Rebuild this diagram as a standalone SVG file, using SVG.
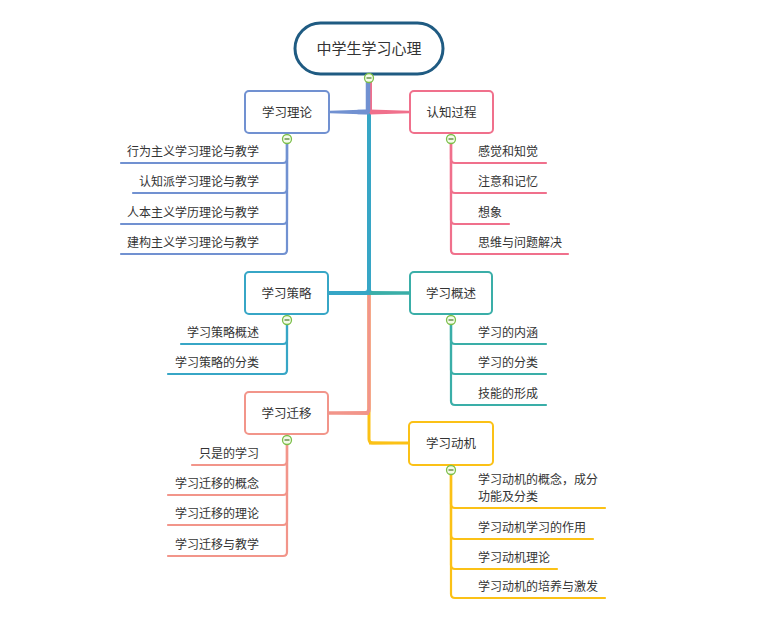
<svg xmlns="http://www.w3.org/2000/svg" width="760" height="624" viewBox="0 0 760 624">
<style>
text{font-family:"Noto Sans CJK SC","Noto Sans",sans-serif;fill:#333}
.lbl{font-size:12.5px;text-anchor:middle}
.sub{font-size:12px}
.l{text-anchor:end}
.node{fill:#fff;stroke-width:2}
.c{fill:none;stroke-width:2.2;stroke-linecap:round;stroke-linejoin:round}
.blue{stroke:#7191d1}.pink{stroke:#f0708c}.tb{stroke:#37a6c6}.teal{stroke:#3aaea8}.sal{stroke:#f2958a}.yel{stroke:#fbc116}
.tog circle{fill:#f4fbe9;stroke:#7cbf4a;stroke-width:1.3}
.tog line{stroke:#4a7a2a;stroke-width:1.2}
</style>
<rect width="760" height="624" fill="#fff"/>
<g id="connectors">
  <!-- main branches -->
  <path class="c yel" style="stroke-width:3" d="M369,76 V439 Q369,443 373,443 H409"/>
  <polygon fill="#fbc116" points="369,441.5 369,444.5 409,443.8 409,442.2"/>
  <path class="c sal" style="stroke-width:3.5" d="M369,76 V409 Q369,413 365,413 H329"/>
  <polygon fill="#f2958a" points="369,411 369,415 329,413.8 329,412.2"/>
  <path class="c teal" style="stroke-width:3.5" d="M369,76 V289 Q369,293 373,293 H409"/>
  <polygon fill="#3aaea8" points="369,291 369,295 409,293.8 409,292.2"/>
  <path class="c tb" style="stroke-width:4" d="M369,76 V289 Q369,293 365,293 H329"/>
  <polygon fill="#37a6c6" points="369,291 369,295 329,293.8 329,292.2"/>
  <path class="c pink" style="stroke-width:4" d="M370,76 V110 Q370,112 372,112 H380"/>
  <polygon fill="#f0708c" points="370,109.5 370,114.5 409,113.3 409,110.7"/>
  <path class="c blue" style="stroke-width:4.5" d="M368,76 V110 Q368,112 366,112 H358"/>
  <polygon fill="#7191d1" points="369,109.5 369,114.5 330,113.3 330,110.7"/>
  <!-- 学习理论 children -->
  <path class="c blue" d="M287,139 V159 Q287,163 283,163 H121"/>
  <path class="c blue" d="M287,139 V189 Q287,193 283,193 H133"/>
  <path class="c blue" d="M287,139 V220 Q287,224 283,224 H121"/>
  <path class="c blue" d="M287,139 V250 Q287,254 283,254 H121"/>
  <!-- 认知过程 children -->
  <path class="c pink" d="M451,139 V159 Q451,163 455,163 H546"/>
  <path class="c pink" d="M451,139 V189 Q451,193 455,193 H546"/>
  <path class="c pink" d="M451,139 V220 Q451,224 455,224 H509"/>
  <path class="c pink" d="M451,139 V250 Q451,254 455,254 H568"/>
  <!-- 学习策略 children -->
  <path class="c tb" d="M287,320 V340 Q287,344 283,344 H181"/>
  <path class="c tb" d="M287,320 V370 Q287,374 283,374 H168"/>
  <!-- 学习概述 children -->
  <path class="c teal" d="M451,320 V340 Q451,344 455,344 H546"/>
  <path class="c teal" d="M451,320 V370 Q451,374 455,374 H546"/>
  <path class="c teal" d="M451,320 V401 Q451,405 455,405 H546"/>
  <!-- 学习迁移 children -->
  <path class="c sal" d="M287,440 V461 Q287,465 283,465 H192"/>
  <path class="c sal" d="M287,440 V491 Q287,495 283,495 H168"/>
  <path class="c sal" d="M287,440 V521 Q287,525 283,525 H168"/>
  <path class="c sal" d="M287,440 V552 Q287,556 283,556 H168"/>
  <!-- 学习动机 children -->
  <path class="c yel" d="M451,470 V504 Q451,508 455,508 H605"/>
  <path class="c yel" d="M451,470 V535 Q451,539 455,539 H593"/>
  <path class="c yel" d="M451,470 V565 Q451,569 455,569 H557"/>
  <path class="c yel" d="M451,470 V594 Q451,598 455,598 H605"/>
</g>
<g id="root">
  <rect x="295" y="23" width="148" height="51" rx="25.5" fill="#fff" stroke="#1f5b82" stroke-width="3"/>
  <text x="369" y="53.5" style="font-size:15px;text-anchor:middle">中学生学习心理</text>
</g>
<g id="n-xxll">
  <rect class="node blue" x="245" y="91" width="84" height="42" rx="4"/>
  <text class="lbl" x="287" y="116.5">学习理论</text>
</g>
<g id="n-rzgc">
  <rect class="node pink" x="410" y="91" width="83" height="42" rx="4"/>
  <text class="lbl" x="451.5" y="116.5">认知过程</text>
</g>
<g id="n-xxcl">
  <rect class="node tb" x="245" y="272" width="83" height="42" rx="4"/>
  <text class="lbl" x="286.5" y="297.5">学习策略</text>
</g>
<g id="n-xxgs">
  <rect class="node teal" x="410" y="272" width="82" height="42" rx="4"/>
  <text class="lbl" x="451" y="297.5">学习概述</text>
</g>
<g id="n-xxqy">
  <rect class="node sal" x="245" y="392" width="83" height="42" rx="4"/>
  <text class="lbl" x="286.5" y="417.5">学习迁移</text>
</g>
<g id="n-xxdj">
  <rect class="node yel" x="409" y="422" width="84" height="43" rx="4"/>
  <text class="lbl" x="451" y="447.5">学习动机</text>
</g>
<g id="leaves-xxll">
  <text class="sub l" x="259" y="156">行为主义学习理论与教学</text>
  <text class="sub l" x="259" y="186">认知派学习理论与教学</text>
  <text class="sub l" x="259" y="217">人本主义学历理论与教学</text>
  <text class="sub l" x="259" y="247">建构主义学习理论与教学</text>
</g>
<g id="leaves-rzgc">
  <text class="sub" x="478" y="156">感觉和知觉</text>
  <text class="sub" x="478" y="186">注意和记忆</text>
  <text class="sub" x="478" y="217">想象</text>
  <text class="sub" x="478" y="247">思维与问题解决</text>
</g>
<g id="leaves-xxcl">
  <text class="sub l" x="259" y="337">学习策略概述</text>
  <text class="sub l" x="259" y="367">学习策略的分类</text>
</g>
<g id="leaves-xxgs">
  <text class="sub" x="478" y="337">学习的内涵</text>
  <text class="sub" x="478" y="367">学习的分类</text>
  <text class="sub" x="478" y="398">技能的形成</text>
</g>
<g id="leaves-xxqy">
  <text class="sub l" x="259" y="458">只是的学习</text>
  <text class="sub l" x="259" y="488">学习迁移的概念</text>
  <text class="sub l" x="259" y="518">学习迁移的理论</text>
  <text class="sub l" x="259" y="549">学习迁移与教学</text>
</g>
<g id="leaves-xxdj">
  <text class="sub" x="478" y="483.5"><tspan x="478">学习动机的概念，成分</tspan><tspan x="478" dy="17.5">功能及分类</tspan></text>
  <text class="sub" x="478" y="532">学习动机学习的作用</text>
  <text class="sub" x="478" y="562">学习动机理论</text>
  <text class="sub" x="478" y="591">学习动机的培养与激发</text>
</g>
<g id="toggles" class="tog">
  <circle cx="369" cy="78" r="4.5"/><line x1="366.5" y1="78" x2="371.5" y2="78"/>
  <circle cx="287" cy="139" r="4.5"/><line x1="284.5" y1="139" x2="289.5" y2="139"/>
  <circle cx="451" cy="139" r="4.5"/><line x1="448.5" y1="139" x2="453.5" y2="139"/>
  <circle cx="287" cy="320" r="4.5"/><line x1="284.5" y1="320" x2="289.5" y2="320"/>
  <circle cx="451" cy="320" r="4.5"/><line x1="448.5" y1="320" x2="453.5" y2="320"/>
  <circle cx="287" cy="440" r="4.5"/><line x1="284.5" y1="440" x2="289.5" y2="440"/>
  <circle cx="451" cy="470" r="4.5"/><line x1="448.5" y1="470" x2="453.5" y2="470"/>
</g>
</svg>
